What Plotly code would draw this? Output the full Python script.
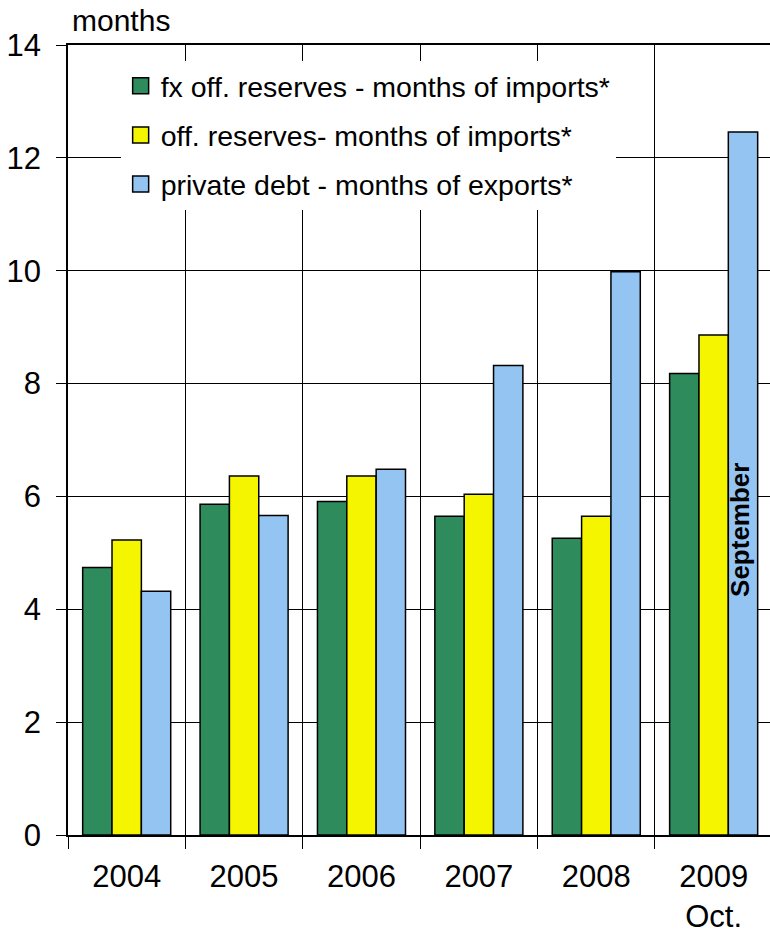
import plotly.graph_objects as go

years = ["2004", "2005", "2006", "2007", "2008", "2009"]
year_labels = ["2004", "2005", "2006", "2007", "2008", "2009<br>Oct."]
fx_reserves = [4.74, 5.86, 5.91, 5.65, 5.26, 8.18]
off_reserves = [5.23, 6.36, 6.36, 6.04, 5.65, 8.86]
private_debt = [4.32, 5.66, 6.48, 8.32, 9.98, 12.46]
series_names = [
    "fx off. reserves - months of imports*",
    "off. reserves- months of imports*",
    "private debt - months of exports*",
]
colors = ["#2E8B5C", "#F5F500", "#94C4F2"]
y_ticks = [0, 2, 4, 6, 8, 10, 12, 14]

FONT = "Liberation Sans, Arial, sans-serif"

fig = go.Figure()
for i, (name, vals) in enumerate(zip(series_names, [fx_reserves, off_reserves, private_debt])):
    fig.add_trace(go.Bar(
        x=years, y=vals, name=name, legendgroup=f"g{i}", showlegend=False,
        marker=dict(color=colors[i], line=dict(color="black", width=1.5)),
    ))
# legend entries with larger square symbols
for i, name in enumerate(series_names):
    fig.add_trace(go.Scatter(
        x=[None], y=[None], mode="markers", name=name, legendgroup=f"g{i}",
        marker=dict(symbol="square", size=17, color=colors[i],
                    line=dict(color="black", width=1.5)),
    ))

fig.add_annotation(
    x=5, y=5.4, xref="x", yref="y", xshift=27,
    text="<b>September</b>", textangle=-90, showarrow=False,
    font=dict(family=FONT, size=26, color="black"),
)
fig.add_annotation(
    x=0, y=1, xref="paper", yref="paper", xanchor="left", yanchor="bottom",
    xshift=2, yshift=6, text="months", showarrow=False,
    font=dict(family=FONT, size=30, color="black"),
)

fig.update_layout(
    width=770, height=934,
    margin=dict(l=68, r=0, t=45, b=99),
    paper_bgcolor="white", plot_bgcolor="white",
    font=dict(family=FONT, size=31, color="black"),
    barmode="group", bargap=0.25, bargroupgap=0,
    showlegend=True,
    legend=dict(
        x=0.075, y=0.98, xanchor="left", yanchor="top",
        bgcolor="white", borderwidth=0,
        font=dict(family=FONT, size=28.5, color="black"),
        traceorder="grouped", tracegroupgap=9,
        itemsizing="trace",
    ),
    xaxis=dict(
        type="category", tickmode="array", tickvals=years, ticktext=year_labels,
        tickson="boundaries", ticks="outside", ticklen=12, tickcolor="black",
        showgrid=True, gridcolor="black", gridwidth=1,
        showline=True, linecolor="black", linewidth=1.5, mirror=True,
        range=[-0.5, 5.48], ticklabelstandoff=13,
    ),
    yaxis=dict(
        range=[0, 14], tickvals=y_ticks, ticks="outside", ticklen=10, tickcolor="black",
        showgrid=True, gridcolor="black", gridwidth=1, zeroline=False,
        showline=True, linecolor="black", linewidth=1.5,
        ticklabelstandoff=9,
    ),
)

fig.write_html("out.html")
